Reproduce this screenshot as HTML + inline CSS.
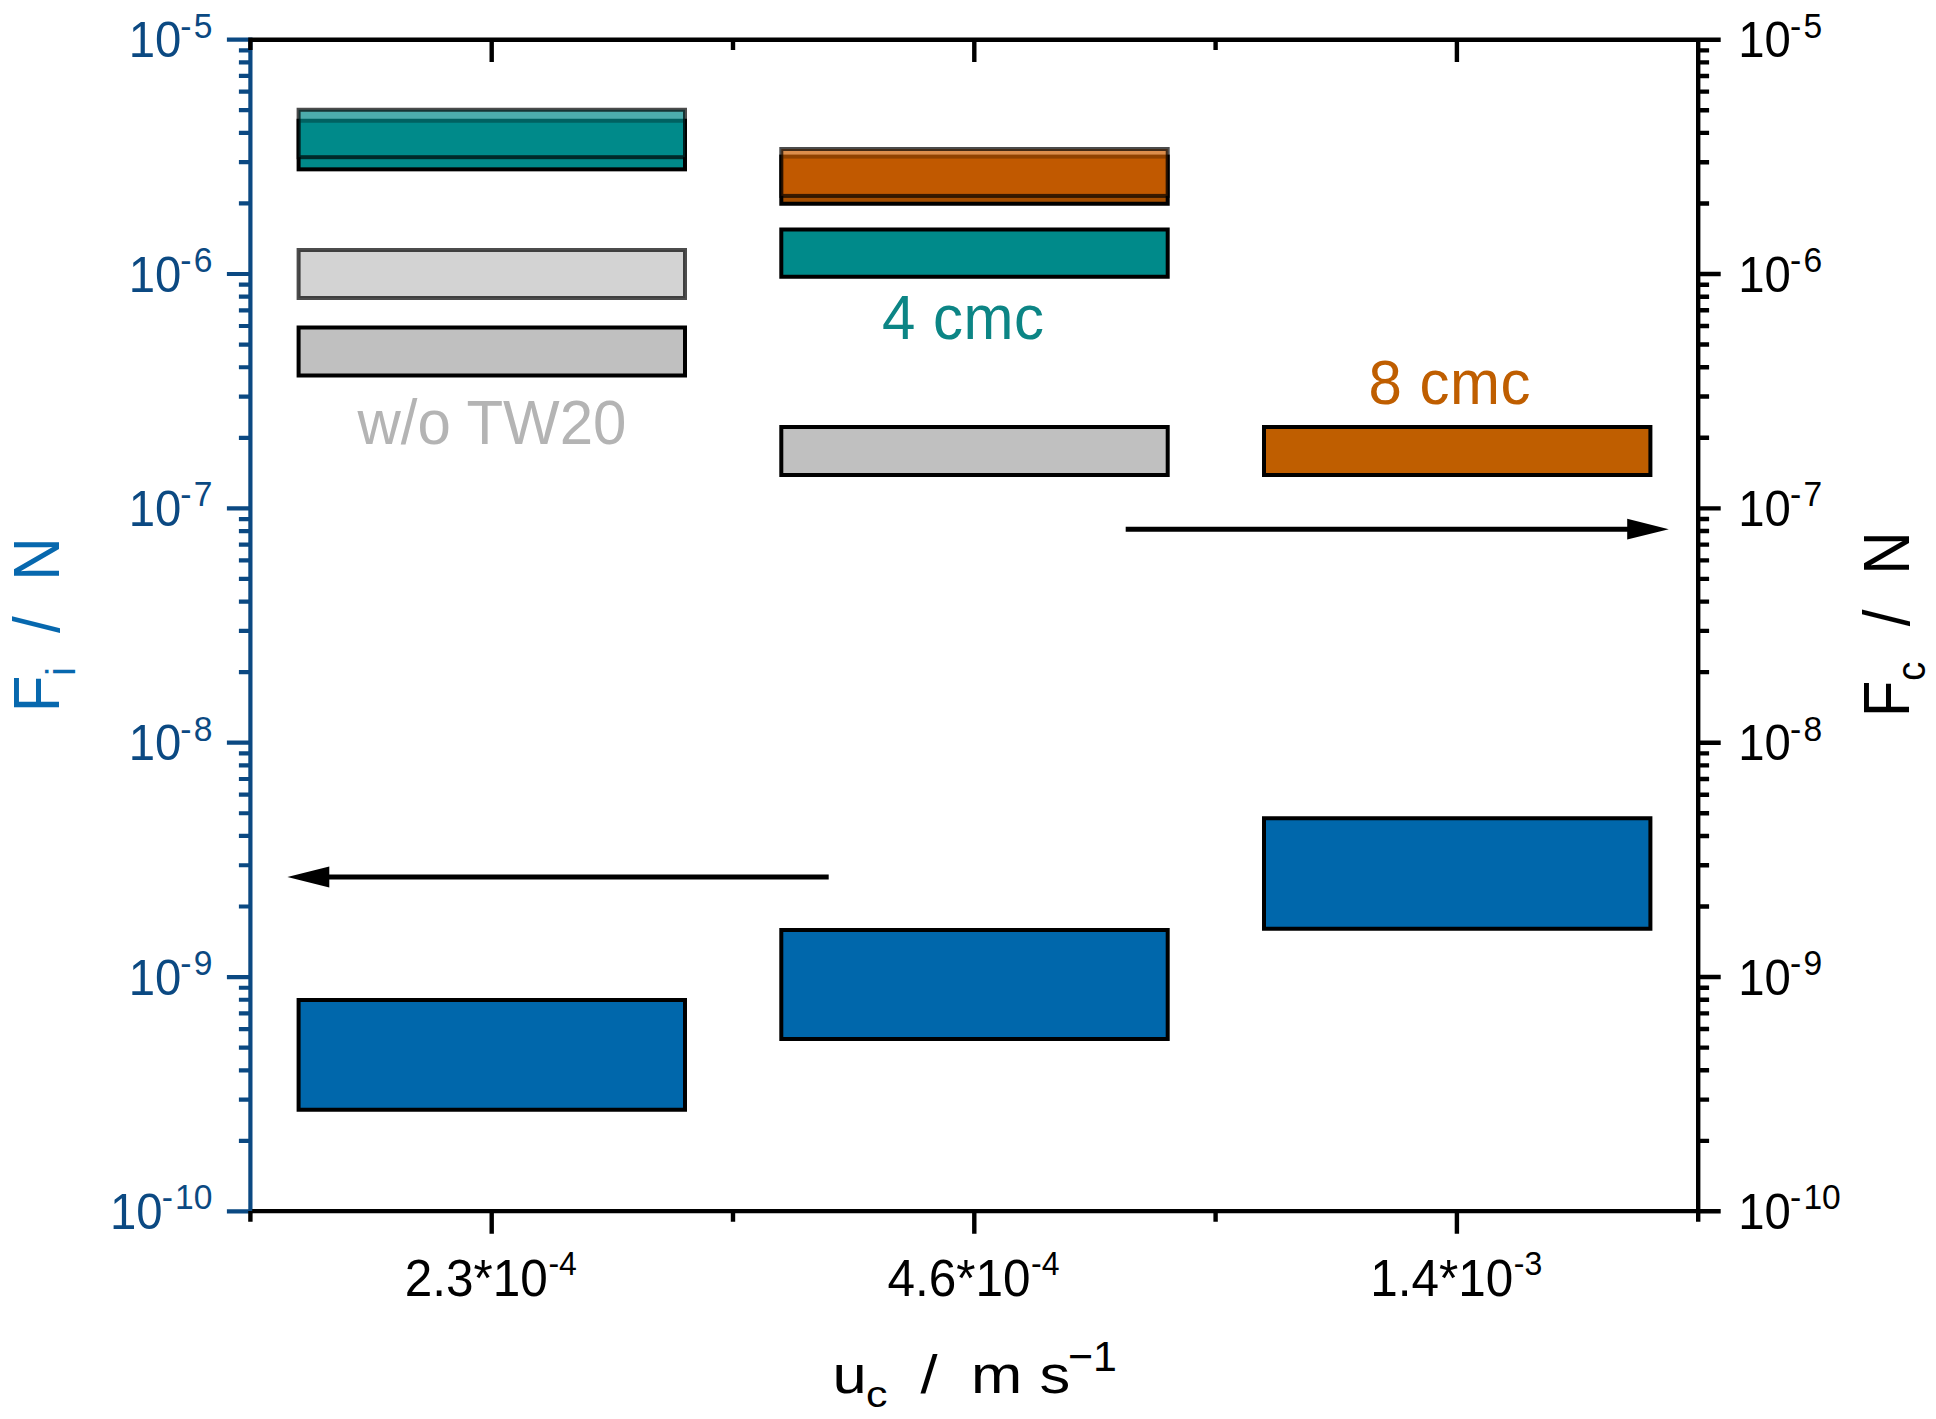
<!DOCTYPE html>
<html lang="en"><head><meta charset="utf-8"><title>Force vs. continuous phase velocity</title>
<style>html,body{margin:0;padding:0;background:#fff}svg{display:block}text{white-space:pre;font-family:"Liberation Sans",sans-serif}</style>
</head><body>
<svg width="1936" height="1419" viewBox="0 0 1936 1419">
<rect width="1936" height="1419" fill="#fff"/>
<g id="bars">
<rect x="298.60" y="120.75" width="386.40" height="48.60" fill="#008a8a" stroke="#000" stroke-width="4"/>
<rect x="298.60" y="109.75" width="386.40" height="47.45" fill="#008a8a" stroke="#000" stroke-width="4" fill-opacity=".7" stroke-opacity=".7"/>
<rect x="298.60" y="250.00" width="386.40" height="48.00" fill="#c0c0c0" stroke="#000" stroke-width="4" fill-opacity=".7" stroke-opacity=".7"/>
<rect x="298.60" y="327.50" width="386.40" height="48.00" fill="#c0c0c0" stroke="#000" stroke-width="4"/>
<rect x="298.60" y="1000.00" width="386.40" height="109.75" fill="#0067ab" stroke="#000" stroke-width="4"/>
<rect x="781.30" y="156.60" width="386.40" height="47.15" fill="#a34d00" stroke="#000" stroke-width="4"/>
<rect x="781.30" y="149.00" width="386.40" height="46.90" fill="#cd5e00" stroke="#000" stroke-width="4" fill-opacity=".7" stroke-opacity=".7"/>
<rect x="781.30" y="229.50" width="386.40" height="47.25" fill="#008a8a" stroke="#000" stroke-width="4"/>
<rect x="781.30" y="427.00" width="386.40" height="48.00" fill="#c0c0c0" stroke="#000" stroke-width="4"/>
<rect x="781.30" y="930.00" width="386.40" height="109.00" fill="#0067ab" stroke="#000" stroke-width="4"/>
<rect x="1264.00" y="427.00" width="386.40" height="48.00" fill="#bf5e00" stroke="#000" stroke-width="4"/>
<rect x="1264.00" y="818.25" width="386.40" height="110.50" fill="#0067ab" stroke="#000" stroke-width="4"/>
</g>
<g id="axes" fill="none" stroke-linecap="butt">
<path d="M250.4 37.599999999999994V1213.3M250.4 39.65H226.9M250.4 203.45H238.9M250.4 162.19H238.9M250.4 132.91H238.9M250.4 110.20H238.9M250.4 91.64H238.9M250.4 75.95H238.9M250.4 62.36H238.9M250.4 50.37H238.9M250.4 274.00H226.9M250.4 437.80H238.9M250.4 396.54H238.9M250.4 367.26H238.9M250.4 344.55H238.9M250.4 325.99H238.9M250.4 310.30H238.9M250.4 296.71H238.9M250.4 284.72H238.9M250.4 508.35H226.9M250.4 672.15H238.9M250.4 630.89H238.9M250.4 601.61H238.9M250.4 578.90H238.9M250.4 560.34H238.9M250.4 544.65H238.9M250.4 531.06H238.9M250.4 519.07H238.9M250.4 742.70H226.9M250.4 906.50H238.9M250.4 865.24H238.9M250.4 835.96H238.9M250.4 813.25H238.9M250.4 794.69H238.9M250.4 779.00H238.9M250.4 765.41H238.9M250.4 753.42H238.9M250.4 977.05H226.9M250.4 1140.85H238.9M250.4 1099.59H238.9M250.4 1070.31H238.9M250.4 1047.60H238.9M250.4 1029.04H238.9M250.4 1013.35H238.9M250.4 999.76H238.9M250.4 987.77H238.9M250.4 1211.40H226.9" stroke="#0b4982" stroke-width="4.2"/>
<path d="M1698.2 37.599999999999994V1213.3M1698.2 39.65H1720.7M1698.2 203.45H1709.1000000000001M1698.2 162.19H1709.1000000000001M1698.2 132.91H1709.1000000000001M1698.2 110.20H1709.1000000000001M1698.2 91.64H1709.1000000000001M1698.2 75.95H1709.1000000000001M1698.2 62.36H1709.1000000000001M1698.2 50.37H1709.1000000000001M1698.2 274.00H1720.7M1698.2 437.80H1709.1000000000001M1698.2 396.54H1709.1000000000001M1698.2 367.26H1709.1000000000001M1698.2 344.55H1709.1000000000001M1698.2 325.99H1709.1000000000001M1698.2 310.30H1709.1000000000001M1698.2 296.71H1709.1000000000001M1698.2 284.72H1709.1000000000001M1698.2 508.35H1720.7M1698.2 672.15H1709.1000000000001M1698.2 630.89H1709.1000000000001M1698.2 601.61H1709.1000000000001M1698.2 578.90H1709.1000000000001M1698.2 560.34H1709.1000000000001M1698.2 544.65H1709.1000000000001M1698.2 531.06H1709.1000000000001M1698.2 519.07H1709.1000000000001M1698.2 742.70H1720.7M1698.2 906.50H1709.1000000000001M1698.2 865.24H1709.1000000000001M1698.2 835.96H1709.1000000000001M1698.2 813.25H1709.1000000000001M1698.2 794.69H1709.1000000000001M1698.2 779.00H1709.1000000000001M1698.2 765.41H1709.1000000000001M1698.2 753.42H1709.1000000000001M1698.2 977.05H1720.7M1698.2 1140.85H1709.1000000000001M1698.2 1099.59H1709.1000000000001M1698.2 1070.31H1709.1000000000001M1698.2 1047.60H1709.1000000000001M1698.2 1029.04H1709.1000000000001M1698.2 1013.35H1709.1000000000001M1698.2 999.76H1709.1000000000001M1698.2 987.77H1709.1000000000001M1698.2 1211.40H1720.7M248.20000000000002 39.8H1720.7M252.1 1211.1H1720.7M250.40 39.8V50.099999999999994M250.40 1211.1V1221.8M491.70 39.8V62.099999999999994M491.70 1211.1V1233.8M733.00 39.8V50.099999999999994M733.00 1211.1V1221.8M974.30 39.8V62.099999999999994M974.30 1211.1V1233.8M1215.60 39.8V50.099999999999994M1215.60 1211.1V1221.8M1456.90 39.8V62.099999999999994M1456.90 1211.1V1233.8M1698.20 39.8V50.099999999999994M1698.20 1211.1V1221.8" stroke="#000" stroke-width="4.4"/>
</g>
<g id="arrows" fill="#000" stroke="none">
<path d="M1125.7 526.7H1627.2V518.8L1668.8 529.2L1627.2 539.6V531.7H1125.7Z"/>
<path d="M828.7 874.5H329.3V866.5L287.4 877L329.3 887.5V879.5H828.7Z"/>
</g>
<g id="ylabels-left" fill="#0b4982" font-size="47.3" text-anchor="end">
<text transform="translate(212.40 57.35) scale(1 1.06)">10<tspan font-size="33.6" dx="-0.9" dy="-18.68">-<tspan dx="2.2">5</tspan></tspan></text>
<text transform="translate(212.40 291.70) scale(1 1.06)">10<tspan font-size="33.6" dx="-0.9" dy="-18.68">-<tspan dx="2.2">6</tspan></tspan></text>
<text transform="translate(212.40 526.05) scale(1 1.06)">10<tspan font-size="33.6" dx="-0.9" dy="-18.68">-<tspan dx="2.2">7</tspan></tspan></text>
<text transform="translate(212.40 760.40) scale(1 1.06)">10<tspan font-size="33.6" dx="-0.9" dy="-18.68">-<tspan dx="2.2">8</tspan></tspan></text>
<text transform="translate(212.40 994.75) scale(1 1.06)">10<tspan font-size="33.6" dx="-0.9" dy="-18.68">-<tspan dx="2.2">9</tspan></tspan></text>
<text transform="translate(212.40 1229.10) scale(1 1.06)">10<tspan font-size="33.6" dx="-0.9" dy="-18.68">-<tspan dx="2.2">10</tspan></tspan></text>
</g>
<g id="ylabels-right" fill="#000" font-size="47.3">
<text transform="translate(1738.30 57.35) scale(1 1.06)">10<tspan font-size="33.6" dx="-0.9" dy="-18.68">-<tspan dx="2.2">5</tspan></tspan></text>
<text transform="translate(1738.30 291.70) scale(1 1.06)">10<tspan font-size="33.6" dx="-0.9" dy="-18.68">-<tspan dx="2.2">6</tspan></tspan></text>
<text transform="translate(1738.30 526.05) scale(1 1.06)">10<tspan font-size="33.6" dx="-0.9" dy="-18.68">-<tspan dx="2.2">7</tspan></tspan></text>
<text transform="translate(1738.30 760.40) scale(1 1.06)">10<tspan font-size="33.6" dx="-0.9" dy="-18.68">-<tspan dx="2.2">8</tspan></tspan></text>
<text transform="translate(1738.30 994.75) scale(1 1.06)">10<tspan font-size="33.6" dx="-0.9" dy="-18.68">-<tspan dx="2.2">9</tspan></tspan></text>
<text transform="translate(1738.30 1229.10) scale(1 1.06)">10<tspan font-size="33.6" dx="-0.9" dy="-18.68">-<tspan dx="2.2">10</tspan></tspan></text>
</g>
<g id="xlabels" fill="#000" font-size="49.5">
<text transform="translate(404.80 1296.30) scale(1 1.045)">2.3*10<tspan font-size="32" dx="0.5" dy="-20.10">-4</tspan></text>
<text transform="translate(887.50 1296.30) scale(1 1.045)">4.6*10<tspan font-size="32" dx="0.5" dy="-20.10">-4</tspan></text>
<text transform="translate(1370.20 1296.30) scale(1 1.045)">1.4*10<tspan font-size="32" dx="0.5" dy="-20.10">-3</tspan></text>
</g>
<g id="annotations" font-size="60">
<text transform="translate(357.50 443.80) scale(1 1.045)" fill="#b4b4b4">w/o TW20</text>
<text transform="translate(882.00 338.80) scale(1 1.045)" fill="#0c8585" letter-spacing=".5">4 cmc</text>
<text transform="translate(1368.50 403.60) scale(1 1.045)" fill="#bf5e00" letter-spacing=".5">8 cmc</text>
</g>
<g id="titles" font-size="60">
<text transform="translate(832.40 1392.70) scale(1 0.86)" fill="#000"><tspan font-size="61.5">u</tspan><tspan font-size="43" dx="-0.5" dy="16.5">c</tspan><tspan font-size="61.5" dy="-16.5" dx="-1.2">  /  </tspan><tspan font-size="61.5" dx="-0.7">m s</tspan></text>
<text transform="translate(1068.00 1371.30) scale(1 0.99)" fill="#000" font-size="43">−1</text>
<text transform="translate(58.60 712.30) rotate(-90) scale(1 1.09)" fill="#0768ae">F<tspan font-size="38" dy="15.32">i</tspan><tspan dy="-15.32" dx="1">  /  </tspan><tspan dx="2">N</tspan></text>
<text transform="translate(1908.60 717.30) rotate(-90) scale(1 1.09)" fill="#000">F<tspan font-size="38" dy="15.32">c</tspan><tspan dy="-15.32" dx="2">  /  </tspan><tspan dx="1.5">N</tspan></text>
</g>
</svg></body></html>
